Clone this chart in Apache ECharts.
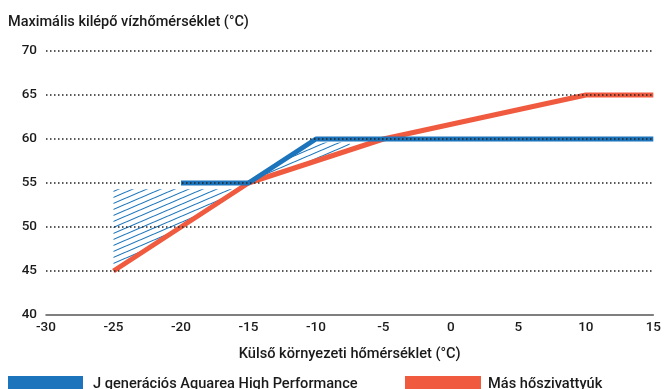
<!DOCTYPE html>
<html>
<head>
<meta charset="utf-8">
<script src="https://cdn.jsdelivr.net/npm/echarts@6/dist/echarts.min.js"></script>
<style>
  html, body { margin: 0; padding: 0; background: #fff; }
  #chart { width: 664px; height: 389px; }
</style>
</head>
<body>
<div id="chart"></div>
<script>
// Max. outlet water temperature vs. outdoor temperature
const xTicks = [-30, 15, 5];        // min, max, step of the outdoor temperature axis
const yTicks = [40, 70, 5];         // min, max, step of the water temperature axis

const aquareaName = 'J generációs Aquarea High Performance';
const otherName = 'Más hőszivattyúk';

const aquareaX = [-20, -15, -10, 15];
const aquareaY = [55, 55, 60, 60];

const otherX = [-25, -15, -5, 10, 15];
const otherY = [45, 55, 60, 65, 65];

// Hatched advantage zones (outdoor temp, water temp)
const zoneLowX = [-25, -15.7, -25];
const zoneLowY = [54.3, 54.3, 45];
const zoneHighX = [-15, -10.4, -7.5, -7.5];
const zoneHighY = [55, 59.6, 59.6, 58.75];

const blue = '#1c75bc';
const red = '#f05a3f';

function pairs(xs, ys) { return xs.map((x, i) => [x, ys[i]]); }

// Diagonal line pattern for the hatched zones
function hatchPattern() {
  const w = 14, h = 6;
  const c = document.createElement('canvas');
  c.width = w; c.height = h;
  const g = c.getContext('2d');
  g.strokeStyle = blue;
  g.lineWidth = 1.1;
  for (const off of [-h, 0, h]) {
    g.beginPath();
    g.moveTo(0, h + off);
    g.lineTo(w, off);
    g.stroke();
  }
  return { image: c, repeat: 'repeat' };
}
const hatch = hatchPattern();

function zoneSeries(xs, ys) {
  return {
    type: 'custom',
    z: 1,
    silent: true,
    data: [0],
    renderItem: function (params, api) {
      const pts = xs.map((x, i) => api.coord([x, ys[i]]));
      return {
        type: 'polygon',
        shape: { points: pts },
        style: { fill: hatch }
      };
    }
  };
}

const font = 'Roboto, "Noto Sans", sans-serif';
const ink = '#1a1a1a';

const chart = echarts.init(document.getElementById('chart'), null, { renderer: 'canvas' });
chart.setOption({
  animation: false,
  textStyle: { fontFamily: font },
  title: {
    text: 'Maximális kilépő vízhőmérséklet (°C)',
    left: 3,
    top: 10,
    textStyle: { fontSize: 14.5, fontWeight: 500, color: ink, fontFamily: font }
  },
  legend: [
    {
      data: [aquareaName],
      left: 8, top: 376, padding: 0,
      icon: 'rect', itemWidth: 75, itemHeight: 16,
      textStyle: { fontSize: 14.6, fontWeight: 500, color: ink, padding: [0, 0, 0, 5] },
      selectedMode: false
    },
    {
      data: [otherName],
      left: 405, top: 376, padding: 0,
      icon: 'rect', itemWidth: 76, itemHeight: 16,
      textStyle: { fontSize: 14.6, fontWeight: 500, color: ink, padding: [0, 0, 0, 2] },
      selectedMode: false
    }
  ],
  grid: { left: 46, right: 10, top: 51, bottom: 74, containLabel: false },
  xAxis: {
    type: 'value',
    min: xTicks[0], max: xTicks[1], interval: xTicks[2],
    name: 'Külső környezeti hőmérséklet (°C)',
    nameLocation: 'middle',
    nameGap: 32,
    nameTextStyle: { fontSize: 14.6, fontWeight: 500, color: ink },
    axisLine: { lineStyle: { color: '#555', width: 1.5 } },
    axisTick: { show: false },
    axisLabel: { fontSize: 13.5, fontWeight: 500, color: ink, margin: 6 },
    splitLine: { show: false }
  },
  yAxis: {
    type: 'value',
    z: 5,
    min: yTicks[0], max: yTicks[1], interval: yTicks[2],
    axisLine: { show: false },
    axisTick: { show: false },
    axisLabel: { fontSize: 13.5, fontWeight: 500, color: ink, margin: 9 },
    splitLine: {
      show: true,
      showMinLine: false,
      lineStyle: { type: [1.5, 2.5], color: '#222', width: 1.5 }
    }
  },
  series: [
    zoneSeries(zoneLowX, zoneLowY),
    zoneSeries(zoneHighX, zoneHighY),
    {
      name: otherName,
      type: 'line',
      z: 2,
      data: pairs(otherX, otherY),
      symbol: 'none',
      color: red,
      lineStyle: { color: red, width: 5 }
    },
    {
      name: aquareaName,
      type: 'line',
      z: 3,
      data: pairs(aquareaX, aquareaY),
      symbol: 'none',
      color: blue,
      lineStyle: { color: blue, width: 5 }
    }
  ]
});
</script>
</body>
</html>
